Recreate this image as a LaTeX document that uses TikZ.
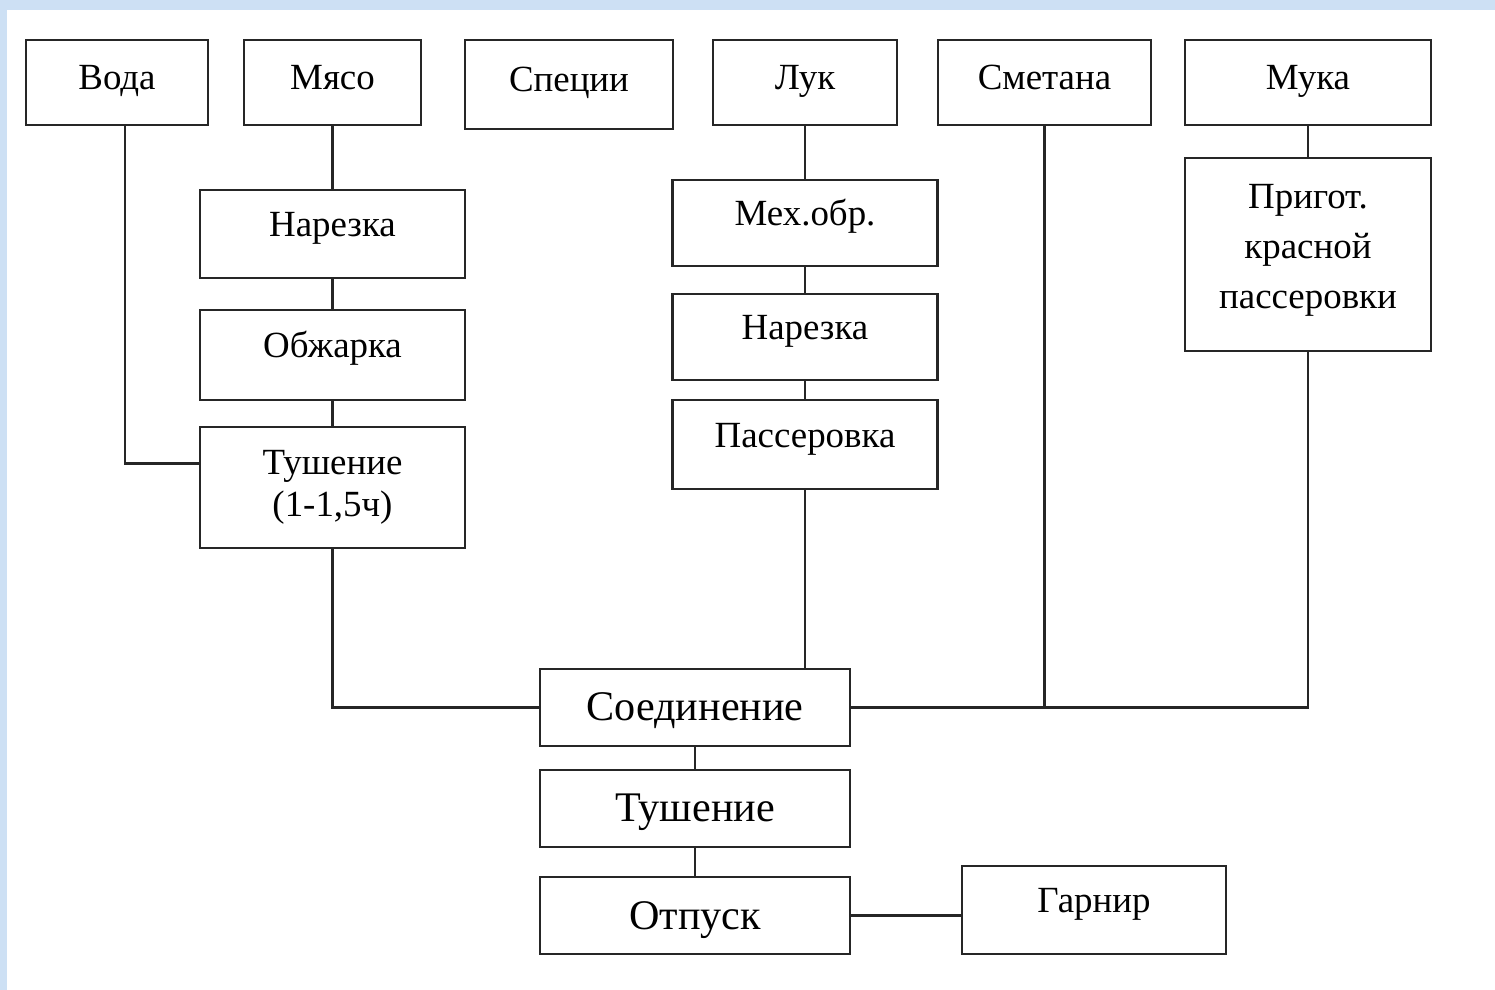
\documentclass[tikz,border=0pt]{standalone}
\usepackage{fontspec}
\setmainfont{Liberation Serif}
\usetikzlibrary{calc}

\definecolor{slideblue}{RGB}{205,224,244}

\begin{document}
\begin{tikzpicture}
    \tikzstyle{item} = [rectangle, draw=black!85, line width=.8pt, fill=white, font=\fontsize{10.5}{12.6}\selectfont, text height=.26cm, text depth=.2cm]
    \tikzstyle{raw} = [item, minimum height=.85cm, text depth=.12cm]
    \tikzstyle{stage} = [rectangle, draw=black!85, line width=.8pt, fill=white, font=\fontsize{12}{14}\selectfont, minimum width=3.1cm, minimum height=.77cm, text height=.36cm, text depth=.09cm]
    \tikzstyle{link} = [line width=.8pt, black!85]

    % Background ---------------------------------------
    \fill[slideblue] (0, 0) rectangle (14.95, 9.9);
    \fill[white] (.07, 0) rectangle (14.95, 9.8);
    \useasboundingbox (0, 0) rectangle (14.95, 9.9);

    % Ingredients --------------------------------------
    \node (voda) at (1.17, 9.075) [raw, minimum width=1.82cm] {Вода};
    \node (myaso) at (3.325, 9.075) [raw, minimum width=1.77cm] {Мясо};
    \node (specii) at (5.69, 9.055) [raw, minimum width=2.08cm, minimum height=.89cm] {Специи};
    \node (luk) at (8.05, 9.075) [raw, minimum width=1.84cm] {Лук};
    \node (smetana) at (10.445, 9.075) [raw, minimum width=2.13cm] {Сметана};
    \node (muka) at (13.08, 9.075) [raw, minimum width=2.46cm] {Мука};

    % Meat ---------------------------------------------
    \node (narezka1) at ($(myaso) + (0, -1.515)$) [item, minimum width=2.65cm, minimum height=.88cm] {Нарезка};
    \node (obzharka) at ($(narezka1) + (0, -1.21)$) [item, minimum width=2.65cm, minimum height=.9cm] {Обжарка};
    \node (tush1) at ($(obzharka) + (0, -1.325)$) [item, text height=, text depth=, align=center, font=\fontsize{10.5}{12}\selectfont, minimum width=2.65cm, minimum height=1.21cm] {Тушение\\(1-1,5ч)};

    % Onion --------------------------------------------
    \node (mekh) at (8.05, 7.67) [item, minimum width=2.65cm, minimum height=.86cm] {Мех.обр.};
    \node (narezka2) at ($(mekh) + (0, -1.14)$) [item, minimum width=2.65cm, minimum height=.86cm] {Нарезка};
    \node (passer) at ($(narezka2) + (0, -1.075)$) [item, minimum width=2.65cm, minimum height=.89cm] {Пассеровка};

    % Flour --------------------------------------------
    \node (prigot) at (13.08, 7.355) [item, text height=, text depth=.16cm, align=center, font=\fontsize{10.5}{14.2}\selectfont, minimum width=2.46cm, minimum height=1.93cm] {Пригот.\\красной\\пассеровки};

    % Final stages -------------------------------------
    \node (soed) at (6.95, 2.825) [stage] {Соединение};
    \node (tush2) at ($(soed) + (0, -1.01)$) [stage] {Тушение};
    \node (otpusk) at ($(tush2) + (0, -1.07)$) [stage] {Отпуск};
    \node (garnir) at (10.94, .8) [item, minimum width=2.64cm, minimum height=.88cm] {Гарнир};

    % Links
    \draw[link] ([xshift=.08cm]voda.south) |- ([yshift=.24cm]tush1.west);
    \draw[link] (myaso) -- (narezka1) -- (obzharka) -- (tush1);
    \draw[link] (tush1.south) |- (soed.west);
    \draw[link] (luk) -- (mekh) -- (narezka2) -- (passer);
    \draw[link] (passer.south) -- (passer.south |- soed.north);
    \draw[link] (smetana.south) |- (soed.east);
    \draw[link] (muka) -- (prigot);
    \draw[link] (prigot.south) |- (soed.east);
    \draw[link] (soed) -- (tush2) -- (otpusk);
    \draw[link] (otpusk.east) -- (otpusk.east -| garnir.west);
\end{tikzpicture}
\end{document}
